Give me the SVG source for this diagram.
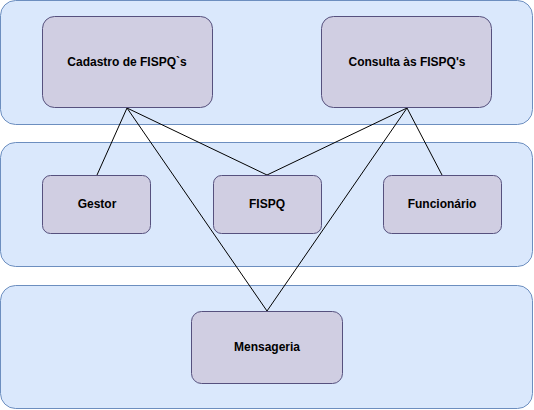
<svg xmlns="http://www.w3.org/2000/svg" width="534" height="410" viewBox="0 0 534 410">
<style>
.band{fill:#dae8fc;stroke:#6c8ebf;stroke-width:1}
.node{fill:#d0cee2;stroke:#56517e;stroke-width:1}
.lbl{font-family:"Liberation Sans",Arial,sans-serif;font-size:12px;font-weight:bold;fill:#000;text-anchor:middle;dominant-baseline:central}
.edge{stroke:#000;stroke-width:1;fill:none}
</style>
<rect width="534" height="410" fill="#ffffff"/>
<g id="bands">
<rect class="band" x="0.5" y="0.5" width="532" height="124" rx="15"/>
<rect class="band" x="0.5" y="142.5" width="532" height="124" rx="15"/>
<rect class="band" x="0.5" y="285.5" width="532" height="123" rx="15"/>
</g>
<g id="connectors">
<line class="edge" x1="127" y1="108" x2="97" y2="175"/>
<line class="edge" x1="127" y1="108" x2="267" y2="175"/>
<line class="edge" x1="127" y1="108" x2="267" y2="311"/>
<line class="edge" x1="407" y1="108" x2="267" y2="175"/>
<line class="edge" x1="407" y1="108" x2="267" y2="311"/>
<line class="edge" x1="407" y1="108" x2="442" y2="175"/>
</g>
<g id="cadastro">
<rect class="node" x="42.5" y="16.5" width="170" height="91" rx="12"/>
<text class="lbl" x="127" y="62">Cadastro de FISPQ`s</text>
</g>
<g id="consulta">
<rect class="node" x="321.5" y="16.5" width="170" height="91" rx="12"/>
<text class="lbl" x="407" y="62">Consulta às FISPQ's</text>
</g>
<g id="gestor">
<rect class="node" x="42.5" y="175.5" width="108" height="58" rx="8"/>
<text class="lbl" x="97" y="204">Gestor</text>
</g>
<g id="fispq">
<rect class="node" x="213.5" y="175.5" width="108" height="58" rx="8"/>
<text class="lbl" x="267" y="204">FISPQ</text>
</g>
<g id="funcionario">
<rect class="node" x="383.5" y="175.5" width="118" height="58" rx="8"/>
<text class="lbl" x="442" y="204">Funcionário</text>
</g>
<g id="mensageria">
<rect class="node" x="191.5" y="311.5" width="151" height="72" rx="10"/>
<text class="lbl" x="267" y="347">Mensageria</text>
</g>
</svg>
